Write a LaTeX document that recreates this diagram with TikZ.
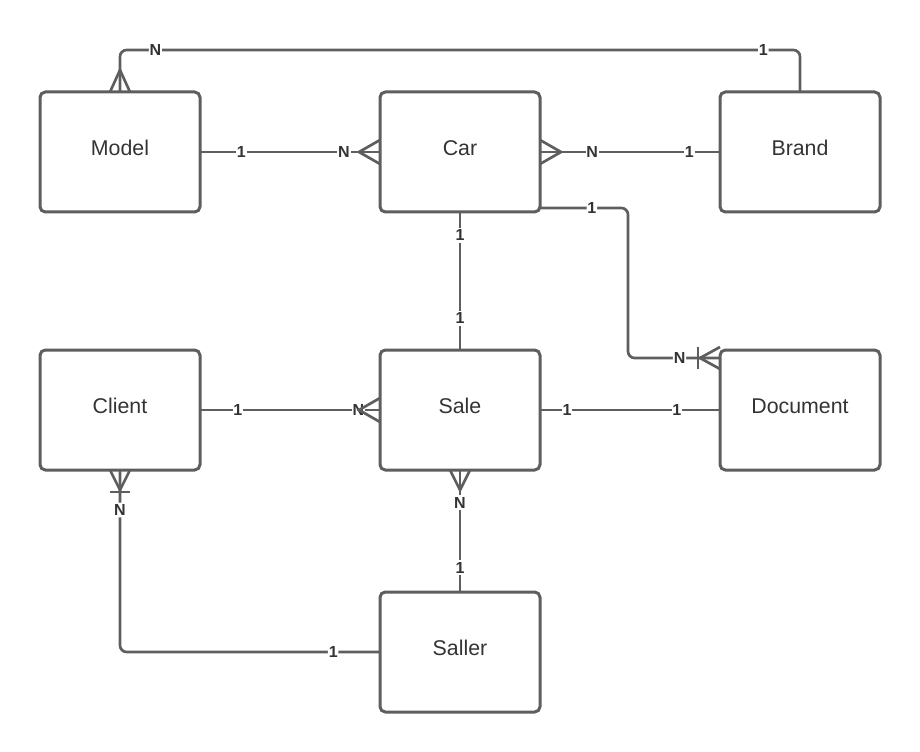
\documentclass[tikz,border=0pt]{standalone}
\usepackage{fontspec}
\setmainfont{Liberation Sans}
\usepackage{xcolor}
\usetikzlibrary{arrows.meta,positioning}
\definecolor{linegray}{HTML}{5E5E5E}
\definecolor{textgray}{HTML}{333333}

\begin{document}
\begin{tikzpicture}[x=0.75pt,y=-0.75pt,
	rel/.style={draw=linegray,line width=2pt},
	card/.style={fill=white,inner xsep=0.6pt,inner ysep=1.5pt,text=textgray,font=\bfseries\fontsize{12}{14}\selectfont}]
\useasboundingbox (0,0) rectangle (920,752);
\begin{scope}[every node/.style={rectangle,draw=linegray,line width=2.25pt,rounded corners=4pt,
	minimum width=120pt,minimum height=90pt,outer sep=0pt,text=textgray,
	text height=11.4pt,text depth=6pt,font=\fontsize{16}{19}\selectfont}]
	\node (model) at (120,152) {Model};
	\node (car) at (460,152) {Car};
	\node (brand) at (800,152) {Brand};
	\node (client) at (120,410) {Client};
	\node (sale) at (460,410) {Sale};
	\node (document) at (800,410) {Document};
	\node (saller) at (460,652) {Saller};
\end{scope}

\begin{scope}[rel]
	\draw (model.east) -- node[card,pos=0.23] {1} node[card,pos=0.8] {N} (car.west);
	\draw (car.west) ++(0,-12) -- ++(-21,12) -- ++(21,12);
	\draw (car.east) -- node[card,pos=0.29] {N} node[card,pos=0.83] {1} (brand.west);
	\draw (car.east) ++(0,-12) -- ++(21,12) -- ++(-21,12);
	\draw[rounded corners=5pt] (brand.north) -- ++(0,-42) -| node[card,pos=0.027] {1} node[card,pos=0.474] {N} (model.north);
	\draw (model.north) ++(-10,0) -- ++(10,-22) -- ++(10,22);
	\draw[rounded corners=5pt] ([yshift=3pt]car.south east) -- node[card,pos=0.59] {1} ++(88,0) |- node[card,pos=0.78] {N} ([yshift=39pt]document.west);
	\draw ([yshift=39pt]document.west) ++(0,-11) -- ++(-20,11) -- ++(20,11);
	\draw ([yshift=39pt]document.west) ++(-22,-11) -- ++(0,22);
	\draw (car.south) -- node[card,pos=0.17] {1} node[card,pos=0.77] {1} (sale.north);
	\draw (client.east) -- node[card,pos=0.21] {1} node[card,pos=0.88] {N} (sale.west);
	\draw (sale.west) ++(0,-12) -- ++(-21,12) -- ++(21,12);
	\draw (sale.east) -- node[card,pos=0.15] {1} node[card,pos=0.76] {1} (document.west);
	\draw (sale.south) -- node[card,pos=0.27] {N} node[card,pos=0.8] {1} (saller.north);
	\draw (sale.south) ++(-10,0) -- ++(10,20) -- ++(10,-20);
	\draw[rounded corners=5pt] (client.south) |- node[card,pos=0.11] {N} node[card,pos=0.91] {1} (saller.west);
	\draw (client.south) ++(-10,0) -- ++(10,20) -- ++(10,-20);
	\draw (client.south) ++(-10,22) -- ++(20,0);
\end{scope}
\end{tikzpicture}
\end{document}
